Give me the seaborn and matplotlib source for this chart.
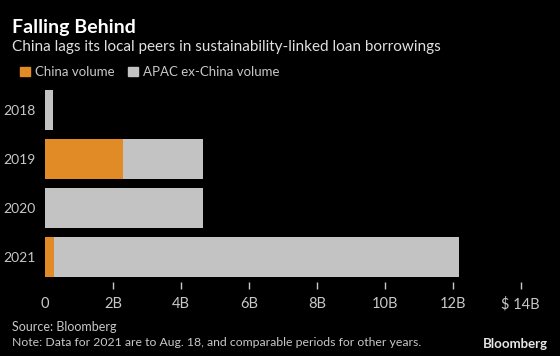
import numpy as np
import pandas as pd
import seaborn as sns
import matplotlib.pyplot as plt
from matplotlib.patches import Patch

""" data (billions USD) """
Years = ['2018', '2019', '2020', '2021']
ChinaVolume = [0.0, 2.3, 0.0, 0.27]
ApacExChinaVolume = [0.23, 2.35, 4.65, 11.9]
TickValues = [0, 2, 4, 6, 8, 10, 12, 14]
TickLabels = ['0', '2B', '4B', '6B', '8B', '10B', '12B', '$ 14B']

CLR_CHINA = '#e08b25'
CLR_APAC = '#c3c3c3'
CLR_BG = '#000000'
CLR_TXT = '#c8c8c8'

sns.set_theme(style='dark')
plt.rcParams['font.family'] = ['Lato', 'DejaVu Sans']

Data = pd.DataFrame({'Year': Years, 'China': ChinaVolume, 'Apac': ApacExChinaVolume})
Data['Total'] = Data['China'] + Data['Apac']

fig = plt.figure(figsize=(5.6, 3.56), dpi=100, facecolor=CLR_BG)
ax = fig.add_axes([45/560, 1-281.5/356, 486/560, 196/356])
ax.set_facecolor(CLR_BG)

sns.barplot(data=Data, x='Total', y='Year', order=Years, orient='h',
            color=CLR_APAC, width=0.8, saturation=1, linewidth=0, ax=ax)
sns.barplot(data=Data, x='China', y='Year', order=Years, orient='h',
            color=CLR_CHINA, width=0.8, saturation=1, linewidth=0, ax=ax)

ax.set_xlim(0, 14.3)
ax.set_ylim(3.5, -0.5)
ax.set_xticks(TickValues)
ax.set_xticklabels(TickLabels)
ax.set_xlabel('')
ax.set_ylabel('')
for s in ax.spines.values():
	s.set_visible(False)
ax.grid(False)
ax.tick_params(axis='x', colors=CLR_TXT, labelsize=10.5, length=5, width=1,
               direction='out', pad=6, bottom=True)
ax.tick_params(axis='y', colors=CLR_TXT, labelsize=10, length=0, pad=7)
ax.xaxis.get_major_ticks()[0].tick1line.set_visible(False)

""" titles, legend, notes """
fig.text(12/560, 1-27/356, 'Falling Behind', color='white', fontsize=14,
         fontweight='bold', va='center')
fig.text(12/560, 1-47/356, 'China lags its local peers in sustainability-linked loan borrowings',
         color='#e0e0e0', fontsize=11, va='center')

Handles = [Patch(color=CLR_CHINA), Patch(color=CLR_APAC)]
fig.legend(Handles, ['China volume', 'APAC ex-China volume'], loc='center left',
           bbox_to_anchor=(8/560, 1-72/356), ncol=2, frameon=False,
           handlelength=0.75, handleheight=0.75, handletextpad=0.4,
           columnspacing=1.0, fontsize=9.5, labelcolor=CLR_TXT)

fig.text(12/560, 1-327/356, 'Source: Bloomberg', color=CLR_TXT, fontsize=9, va='center')
fig.text(12/560, 1-343/356, 'Note: Data for 2021 are to Aug. 18, and comparable periods for other years.',
         color=CLR_TXT, fontsize=8.8, va='center')
fig.text(548/560, 1-344/356, 'Bloomberg', color='#e6e6e6', fontsize=9.5,
         fontweight='bold', ha='right', va='center')

fig.savefig('out.png', dpi=100, facecolor=CLR_BG)
